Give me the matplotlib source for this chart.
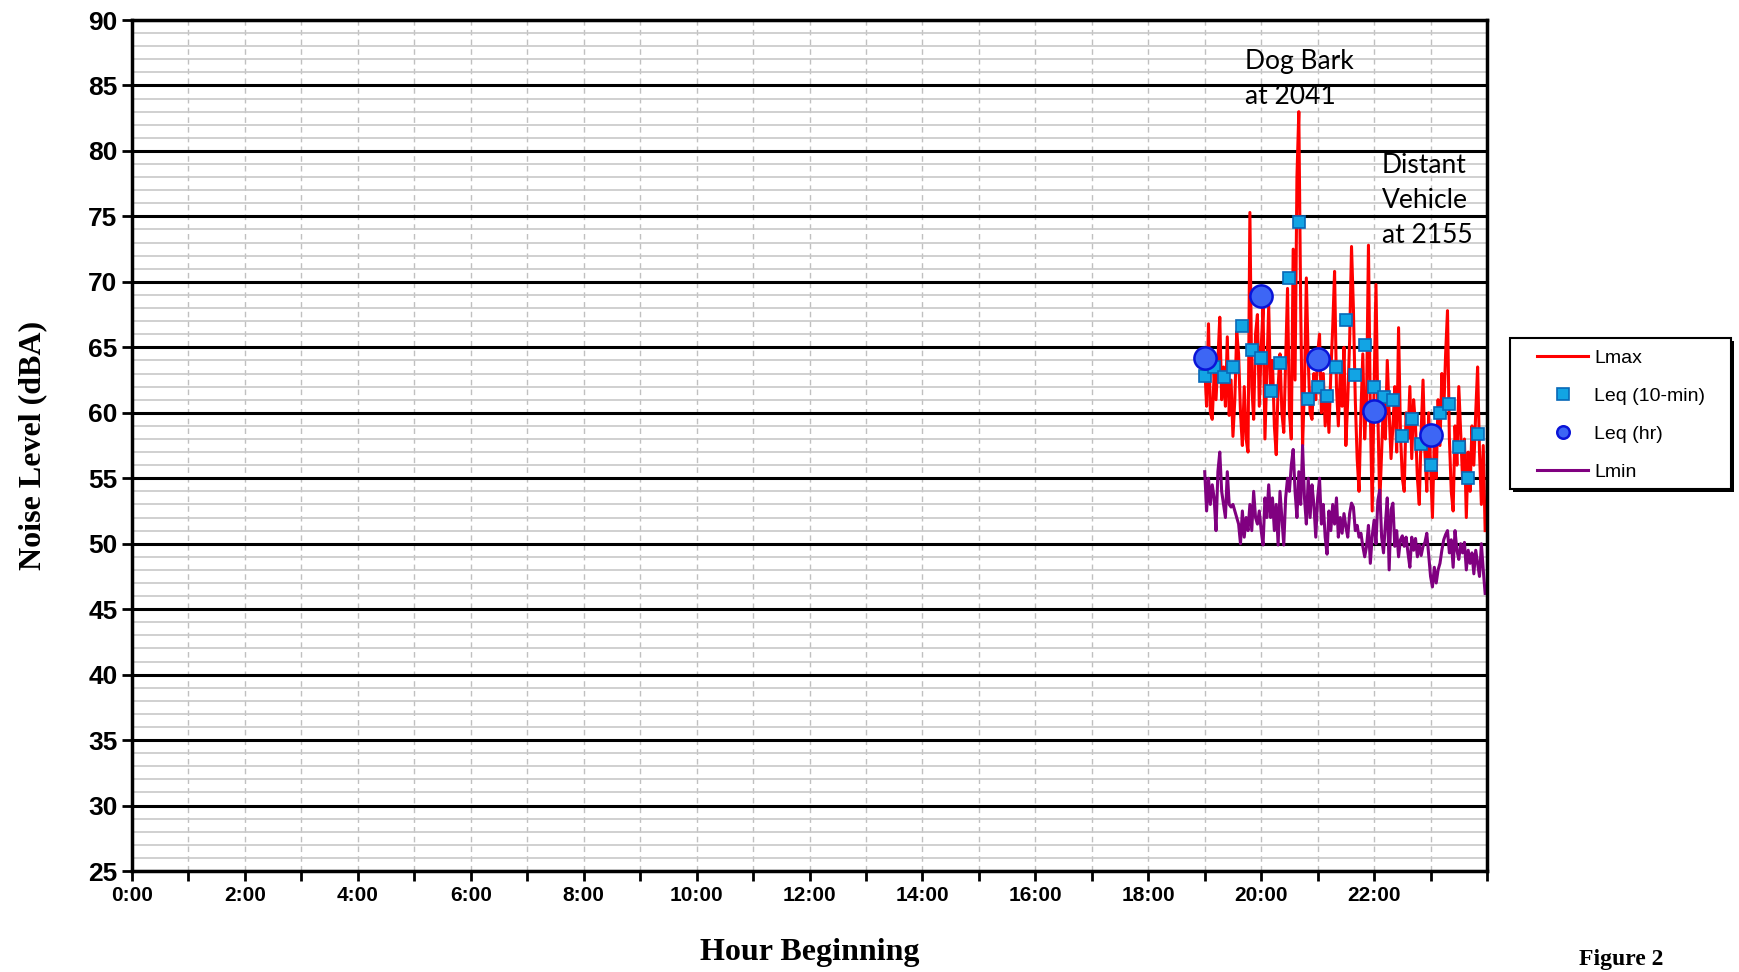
import numpy as np
import matplotlib
matplotlib.use("Agg")
import matplotlib.pyplot as plt
from matplotlib.patches import Rectangle
from matplotlib.lines import Line2D
from matplotlib.ticker import MultipleLocator, FuncFormatter

# Lmax, 2-minute samples, 19:00 - 23:58
lmax_19 = [63.5, 60.5, 66.8, 60.0, 59.5, 63.0, 61.0, 64.0, 67.3, 61.0,
           63.5, 60.5, 65.8, 59.8, 62.5, 58.2, 61.0, 66.2, 64.5, 60.0,
           57.5, 62.0, 58.0, 57.0, 75.3, 62.0, 59.5, 66.0, 67.5, 60.5]
lmax_20 = [65.0, 68.0, 58.0, 63.0, 68.2, 61.5, 64.0, 59.0, 56.8, 62.0,
           64.5, 60.0, 58.5, 64.0, 69.5, 60.0, 58.0, 72.5, 62.5, 78.0,
           83.0, 68.0, 57.5, 62.0, 70.3, 64.0, 60.0, 59.5, 63.0, 61.0]
lmax_21 = [64.5, 66.0, 60.0, 63.0, 59.0, 61.5, 58.5, 63.0, 66.5, 70.8,
           62.0, 59.0, 63.0, 60.5, 65.0, 57.5, 61.0, 65.5, 72.7, 68.0,
           61.0, 56.5, 54.0, 60.0, 64.5, 58.0, 61.0, 72.8, 60.0, 52.5]
lmax_22 = [62.0, 69.8, 60.0, 53.0, 57.0, 61.0, 58.0, 64.0, 60.0, 56.5,
           59.0, 62.0, 57.0, 66.5, 58.5, 55.0, 54.0, 60.0, 58.0, 62.0,
           56.5, 61.0, 59.0, 55.0, 53.0, 58.5, 62.5, 57.0, 54.0, 60.0]
lmax_23 = [56.0, 52.0, 58.0, 55.0, 61.0, 57.5, 63.0, 60.0, 64.5, 67.8,
           58.0, 54.0, 52.5, 59.0, 56.0, 62.0, 58.5, 55.0, 58.0, 52.0,
           57.0, 54.0, 59.0, 56.0, 60.0, 63.5, 57.0, 53.0, 57.5, 51.0]

# Lmin, 2-minute samples
lmin_19 = [55.5, 52.5, 55.0, 53.0, 54.5, 53.5, 51.0, 55.5, 57.0, 54.0,
           53.0, 52.0, 55.5, 53.0, 52.8, 53.0, 52.5, 52.0, 51.5, 50.0,
           52.5, 50.5, 52.0, 51.0, 53.0, 51.0, 54.0, 52.0, 51.5, 52.5]
lmin_20 = [51.0, 49.9, 53.5, 52.0, 54.5, 52.0, 53.5, 51.0, 53.0, 49.9,
           54.0, 52.0, 49.9, 53.5, 55.0, 54.0, 56.0, 57.2, 54.0, 52.0,
           55.5, 53.0, 57.5, 53.5, 51.5, 55.0, 52.0, 54.5, 53.0, 50.5]
lmin_21 = [53.5, 55.0, 51.5, 53.0, 50.5, 49.2, 52.5, 51.0, 53.0, 51.5,
           53.5, 50.5, 52.0, 50.8, 52.3, 51.3, 50.5, 52.3, 53.1, 52.8,
           51.0, 51.4, 50.5, 50.8, 49.8, 49.0, 49.8, 51.4, 48.5, 50.6]
lmin_22 = [51.8, 50.0, 53.3, 54.1, 50.5, 49.3, 51.5, 53.5, 48.0, 52.6,
           53.1, 49.8, 51.0, 49.0, 50.3, 50.6, 49.8, 50.5, 49.3, 48.2,
           50.5, 49.5, 50.4, 49.0, 49.9, 49.1, 49.8, 50.1, 50.8, 49.1]
lmin_23 = [47.5, 46.7, 48.2, 47.0, 48.0, 48.5, 49.5, 50.3, 50.7, 51.0,
           49.3, 50.3, 48.2, 51.0, 49.5, 48.8, 50.0, 49.3, 50.1, 48.0,
           49.5, 48.5, 49.3, 47.7, 49.5, 48.5, 47.5, 50.0, 48.0, 46.2]

# Leq (10-min)
leq10 = [62.8, 63.5, 62.75, 63.5, 66.65, 64.8, 64.2, 61.7, 63.8, 70.3,
         74.55, 61.05, 62.0, 61.3, 63.5, 67.1, 62.85, 65.2, 62.0, 61.2,
         60.95, 58.25, 59.5, 57.65, 56.0, 60.0, 60.65, 57.35, 55.05, 58.35]
# Leq (hr)
leq_hr_hours = [19, 20, 21, 22, 23]
leq_hr = [64.15, 68.9, 64.1, 60.1, 58.3]

lmax = lmax_19 + lmax_20 + lmax_21 + lmax_22 + lmax_23
lmin = lmin_19 + lmin_20 + lmin_21 + lmin_22 + lmin_23
t2 = 19 + np.arange(len(lmax)) * 2 / 60.0
t10 = 19 + np.arange(len(leq10)) * 10 / 60.0

fig = plt.figure(figsize=(17.39, 9.72), dpi=100)
ax = fig.add_axes([0.0759, 0.1039, 0.7792, 0.8755])

ax.set_xlim(0, 24)
ax.set_ylim(25, 90)

# grid
ax.yaxis.set_minor_locator(MultipleLocator(1))
ax.yaxis.set_major_locator(MultipleLocator(5))
ax.xaxis.set_major_locator(MultipleLocator(2))
ax.xaxis.set_minor_locator(MultipleLocator(1))
ax.grid(which='minor', axis='y', color='#c8c8c8', lw=1.2)
ax.grid(which='major', axis='y', color='black', lw=2.2)
ax.grid(which='both', axis='x', color='#c0c0c0', lw=1.0, ls=(0, (4, 3)))
ax.set_axisbelow(True)

sq_style = dict(ls='none', marker='s', mfc='#12a4e4', mec='#0868b8', mew=1.2)
ci_style = dict(ls='none', marker='o', mfc='#3d66f5', mec='#0a14d8', mew=1.8)

ax.plot(t2, lmax, color='#ff0000', lw=2.2)
ax.plot(t2, lmin, color='#800080', lw=2.2)
ax.plot(t10, leq10, ms=8.5, **sq_style)
ax.plot(leq_hr_hours, leq_hr, ms=16, **ci_style)

for s in ax.spines.values():
    s.set_linewidth(2.5)

ax.tick_params(which='both', direction='out', width=2, colors='black')
ax.tick_params(which='major', length=7)
ax.tick_params(which='minor', length=7)
ax.tick_params(axis='y', which='minor', length=0)
ax.xaxis.set_major_formatter(FuncFormatter(lambda v, p: "%d:00" % v if v < 24 else ""))
for lab in ax.get_xticklabels():
    lab.set_fontfamily('Liberation Sans')
    lab.set_fontweight('bold')
    lab.set_fontsize(15)
for lab in ax.get_yticklabels():
    lab.set_fontfamily('Liberation Sans')
    lab.set_fontweight('bold')
    lab.set_fontsize(19)

ax.set_ylabel('Noise Level (dBA)', fontfamily='Liberation Serif', fontweight='bold',
              fontsize=23)
ax.yaxis.set_label_coords(-0.0627, 0.5)
ax.set_xlabel('Hour Beginning', fontfamily='Liberation Serif', fontweight='bold',
              fontsize=23, labelpad=24)

ax.text(19.71, 85.5, 'Dog Bark\nat 2041', fontfamily='Lato', fontsize=19,
        va='center', ha='left', linespacing=1.5)
ax.text(22.14, 76.25, 'Distant\nVehicle\nat 2155', fontfamily='Lato', fontsize=19,
        va='center', ha='left', linespacing=1.5)

# legend box with drop shadow
fig.patches.append(Rectangle((0.8700, 0.4935), 0.1271, 0.1553, transform=fig.transFigure,
                             facecolor='black', edgecolor='none', zorder=5))
fig.patches.append(Rectangle((0.8683, 0.4969), 0.1271, 0.1553, transform=fig.transFigure,
                             facecolor='white', edgecolor='black', lw=1.5, zorder=6))
handles = [Line2D([], [], color='#ff0000', lw=2.2),
           Line2D([], [], ms=8, **sq_style),
           Line2D([], [], ms=9, **ci_style),
           Line2D([], [], color='#800080', lw=2.2)]
labels = ['Lmax', 'Leq (10-min)', 'Leq (hr)', 'Lmin']
leg = fig.legend(handles, labels, loc='upper left',
                 bbox_to_anchor=(0.8839, 0.6405), frameon=False,
                 prop={'family': 'Liberation Sans', 'size': 14},
                 handlelength=2.63, labelspacing=1.04,
                 borderpad=0, handletextpad=0.3, borderaxespad=0)
leg.set_zorder(7)

fig.text(0.932, 0.013, 'Figure 2', fontfamily='Liberation Serif', fontweight='bold',
         fontsize=17, ha='center', va='center')

fig.savefig('out.png', dpi=100)
